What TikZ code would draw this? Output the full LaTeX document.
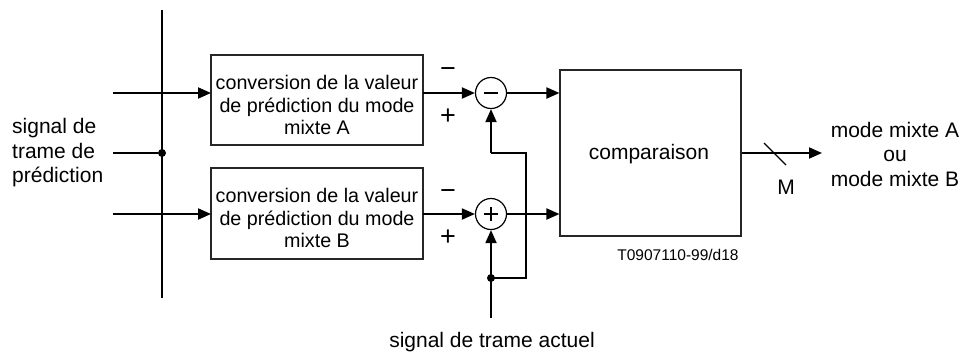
\documentclass[tikz,border=0pt]{standalone}
\usepackage{fontspec}
\setmainfont{Liberation Sans}
\usetikzlibrary{arrows.meta}
\begin{document}
\begin{tikzpicture}[x=1pt,y=-1pt,
  conn/.style={line width=1.9pt},
  arr/.style={conn,-{Triangle[length=13pt,width=11pt]}},
  blk/.style={draw=black!85,line width=1.1pt},
  boxtxt/.style={font=\fontsize{19.7}{22.6}\selectfont,align=center,inner sep=0pt},
  lbl/.style={font=\fontsize{21}{24.5}\selectfont,inner sep=0pt},
  sgn/.style={font=\fontsize{27}{27}\selectfont,inner sep=0pt},
  dotn/.style={circle,fill=black,inner sep=0pt,minimum size=8pt},
  sumn/.style={circle,draw=black,line width=1.2pt,minimum size=31pt,inner sep=0pt},
  bar/.style={line width=2pt}]
\useasboundingbox (0,0) rectangle (964,354);
% bus
\coordinate (bt) at (162,10);
\coordinate (bb) at (162,298);
\draw[conn] (bt) -- (bb);
% boxes
\draw[blk] (211,55) rectangle (423,145);
\draw[blk] (211,168) rectangle (423,259);
\node[boxtxt] (ta) at (317,105) {conversion de la valeur\\de prédiction du mode\\mixte A};
\node[boxtxt] (tb) at (317,218) {conversion de la valeur\\de prédiction du mode\\mixte B};
\coordinate (aw) at (211,93);
\coordinate (ae) at (423,93);
\coordinate (bw) at (211,214);
\coordinate (be) at (423,214);
% inputs
\coordinate (i1) at (113,93);
\coordinate (i2) at (113,153);
\coordinate (i3) at (113,214);
\node[dotn] (jd) at (162,153) {};
\draw[arr] (i1) -- (aw);
\draw[conn] (i2) -- (jd);
\draw[arr] (i3) -- (bw);
\node[lbl,anchor=west,align=left] (lt) at (12,153) {signal de\\trame de\\prédiction};
% summers
\node[sumn] (c1) at (491,93) {};
\node[sumn] (c2) at (491,214) {};
\draw[bar] ([xshift=-7pt]c1.center) -- ([xshift=7pt]c1.center);
\draw[bar] ([xshift=-7pt]c2.center) -- ([xshift=7pt]c2.center);
\draw[bar] ([yshift=-7pt]c2.center) -- ([yshift=7pt]c2.center);
\draw[arr] (ae) -- (c1.west);
\draw[arr] (be) -- (c2.west);
\node[sgn] (m1) at (448,73) {−};
\node[sgn] (p1) at (448,117) {+};
\node[sgn] (m2) at (448,195) {−};
\node[sgn] (p2) at (448,238) {+};
% comparison
\node[blk,draw,minimum width=181pt,minimum height=166pt,inner sep=0pt] (cmp) at (650.5,153) {};
\node[lbl] (ct) at (649,154) {comparaison};
\draw[arr] (c1.east) -- (cmp.west |- c1.east);
\draw[arr] (c2.east) -- (cmp.west |- c2.east);
% feedback
\coordinate (sa) at (491,318);
\node[dotn] (fd) at (491,278) {};
\coordinate (fr) at (526,278);
\coordinate (fu) at (526,153);
\coordinate (fl) at (491,153);
\draw[arr] (sa) -- (c2.south);
\draw[conn] (fd.center) -- (fr) -- (fu) -- (fl);
\draw[arr] (fl) -- (c1.south);
\node[lbl] (st) at (492,342) {signal de trame actuel};
% output
\coordinate (oe) at (822,153);
\draw[arr] (cmp.east) -- (oe);
\coordinate (s1) at (764,143);
\coordinate (s2) at (786,165);
\draw[line width=1.3pt] (s1) -- (s2);
\node[lbl] (mm) at (786,187) {M};
\node[lbl,align=center] (ot) at (895,154) {mode mixte A\\ou\\mode mixte B};
\node[font=\fontsize{15.5}{18}\selectfont,inner sep=0pt] (ref) at (678,255) {T0907110-99/d18};
\end{tikzpicture}
\end{document}
